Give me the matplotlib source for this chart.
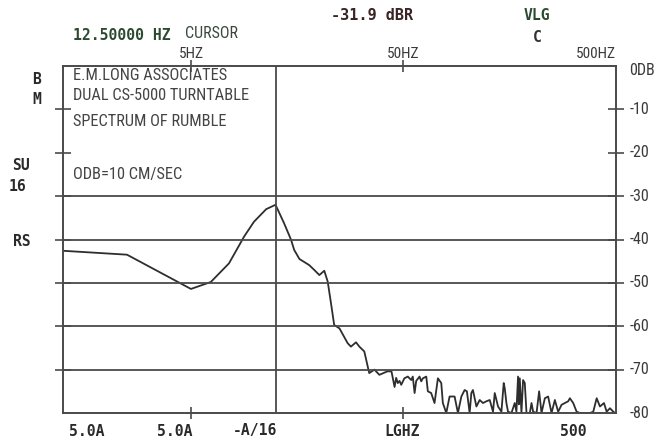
import matplotlib
matplotlib.use('Agg')
import matplotlib.pyplot as plt
from matplotlib import font_manager

# Rumble spectrum (frequency in Hz, level in dB)
freq_hz = [1.25, 2.5, 5.0, 6.2, 7.55, 8.9, 9.9, 11.3, 12.5,
           13.7, 14.8, 15.3, 16.2, 18.0, 19.0, 20.1, 21.2, 22.0, 22.8,
           23.6, 25.0, 27.3, 28.3, 29.9, 31.0, 32.7, 34.5, 36.5, 38.5,
           42.0, 43.9, 45.4, 46.2, 47.0, 47.9, 48.8, 50.5, 52.4, 54.4,
           55.3, 56.4, 57.4, 59.5, 60.6, 61.7, 64.0, 65.1, 67.5, 70.0,
           72.6, 75.3, 76.6, 79.5, 82.4, 87.0, 90.2, 93.6, 97.0, 99.4,
           102.4, 104.3, 106.1, 110.2, 114.2, 118.3, 122.8, 127.3, 131.9, 134.4,
           139.3, 144.5, 148.1, 149.8, 152.5, 155.2, 161.1, 166.9, 170.0, 173.0,
           174.5, 176.3, 179.5, 182.7, 186.1, 189.6, 196.5, 200.2, 203.7, 211.4,
           217.4, 223.1, 231.3, 239.7, 248.7, 257.8, 267.2, 277.3, 287.3, 297.8,
           303.4, 314.5, 326.3, 338.3, 363.7, 377.0, 390.8, 405.5, 420.2, 438.9,
           451.9, 468.4, 485.5, 494.6]
level_db = [-42.6, -43.5, -51.4, -49.8, -45.5, -39.3, -35.9, -33.0, -32.0,
            -36.2, -40.1, -42.4, -44.5, -45.9, -47.0, -48.2, -47.2, -49.7, -54.7,
            -59.7, -60.5, -63.9, -64.7, -63.7, -64.7, -65.8, -70.8, -70.0, -71.2,
            -70.4, -70.4, -74.0, -71.9, -73.1, -72.6, -73.5, -72.0, -71.6, -72.4,
            -71.6, -75.4, -72.6, -71.6, -72.7, -72.0, -71.6, -75.0, -75.4, -77.7,
            -72.0, -73.1, -77.7, -80.0, -76.2, -76.2, -80.0, -76.2, -74.7, -75.0,
            -80.0, -75.4, -74.7, -78.5, -77.0, -77.7, -77.3, -77.0, -79.7, -75.4,
            -78.5, -79.7, -73.1, -74.3, -77.7, -79.7, -80.0, -77.7, -79.7, -71.6,
            -78.0, -72.0, -80.0, -72.4, -73.1, -80.0, -80.0, -77.7, -79.7, -80.0,
            -75.0, -80.0, -76.6, -76.2, -80.0, -77.0, -79.7, -78.1, -77.7, -77.3,
            -76.6, -77.7, -79.7, -80.0, -80.0, -80.0, -79.7, -76.6, -78.5, -77.7,
            -79.7, -78.9, -79.7, -80.0]

db_ticks = [0, -10, -20, -30, -40, -50, -60, -70, -80]
db_labels = ['0DB', '-10', '-20', '-30', '-40', '-50', '-60', '-70', '-80']
grid_db = [-30, -40, -50, -60, -70]
freq_marks = [5, 50, 500]
freq_mark_labels = ['5HZ', '50HZ', '500HZ']
cursor_hz = 12.5
notes = ['E.M.LONG ASSOCIATES', 'DUAL CS-5000 TURNTABLE', 'SPECTRUM OF RUMBLE', 'ODB=10 CM/SEC']
left_status = ['B', 'M', 'SU', '16', 'RS']
bottom_status = ['5.0A', '5.0A', '-A/16', 'LGHZ', '500']

W, H = 665, 441

# pick a narrow face for the plotter-style lettering
names = {f.name for f in font_manager.fontManager.ttflist}
narrow = next((n for n in ['Liberation Sans Narrow', 'Roboto Condensed'] if n in names), 'DejaVu Sans')
plot_font = dict(family=narrow, fontstretch='condensed')
mono_font = dict(family='DejaVu Sans Mono', fontweight='bold')

ink = '#4a4a4a'
fig = plt.figure(figsize=(W / 100, H / 100), dpi=100)
ax = fig.add_axes([63 / W, 1 - 413 / H, (616 - 63) / W, (413 - 66) / H])

ax.plot(freq_hz, level_db, color='#2e2e2e', lw=1.3)
for g in grid_db:
    ax.axhline(g, color=ink, lw=1.3)
ax.axvline(cursor_hz, color=ink, lw=1.3)

ax.set_xscale('log')
ax.set_xlim(1.25, 500)
ax.set_ylim(-80, 0)
for s in ax.spines.values():
    s.set_color(ink)
    s.set_linewidth(1.4)

ax.set_yticks(db_ticks[1:-1])
ax.yaxis.set_ticks_position('both')
ax.tick_params(axis='y', which='both', direction='inout', length=11, width=1.2, color=ink,
               labelleft=False, labelright=False)
ax.set_xticks(freq_marks[:2])
ax.set_xticks([], minor=True)
ax.xaxis.set_ticks_position('both')
ax.tick_params(axis='x', which='both', direction='inout', length=9, width=1.2, color=ink,
               labelbottom=False, labeltop=False)

# right-hand dB scale
for v, lab in zip(db_ticks, db_labels):
    ax.text(1.024, (v + 80) / 80 - (0.012 if v == 0 else 0), lab, transform=ax.transAxes,
            ha='left', va='center', fontsize=11.5, color='#3a3a3a', **plot_font)

# frequency marks above the frame
trans = ax.get_xaxis_transform()
for f, lab in zip(freq_marks, freq_mark_labels):
    ax.text(f, 1.015, lab, transform=trans, ha='right' if f == 500 else 'center',
            va='bottom', fontsize=11, color='#3a3a3a', **plot_font)

# title block inside the plot
for lab, yp in zip(notes, [75, 95, 121, 175]):
    fig.text(73 / W, 1 - yp / H, lab, ha='left', va='center', fontsize=11.8,
             color='#444444', **plot_font)

# analyzer status readouts
fig.text(73 / W, 1 - 35 / H, '12.50000 HZ', ha='left', va='center', fontsize=10.6,
         color='#2c4a30', **mono_font)
fig.text(212 / W, 1 - 34 / H, 'CURSOR', ha='center', va='center', fontsize=11.5,
         color='#3a4a3a', **plot_font)
fig.text(372 / W, 1 - 15 / H, '-31.9 dBR', ha='center', va='center', fontsize=11,
         color='#3a2424', **mono_font)
fig.text(537 / W, 1 - 15 / H, 'VLG', ha='center', va='center', fontsize=10.6,
         color='#2c4a30', **mono_font)
fig.text(537 / W, 1 - 37 / H, 'C', ha='center', va='center', fontsize=10.6,
         color='#333333', **mono_font)

for lab, (xp, yp) in zip(left_status, [(37, 80), (37, 100), (21, 165), (17, 187), (22, 241)]):
    fig.text(xp / W, 1 - yp / H, lab, ha='center', va='center', fontsize=10.6,
             color='#2a2a2a', **mono_font)

for lab, xp in zip(bottom_status, [87, 175, 255, 402, 573]):
    fig.text(xp / W, 1 - 431 / H, lab, ha='center', va='center', fontsize=10.6,
             color='#2a2a2a', **mono_font)

fig.savefig('out.png', dpi=100)
